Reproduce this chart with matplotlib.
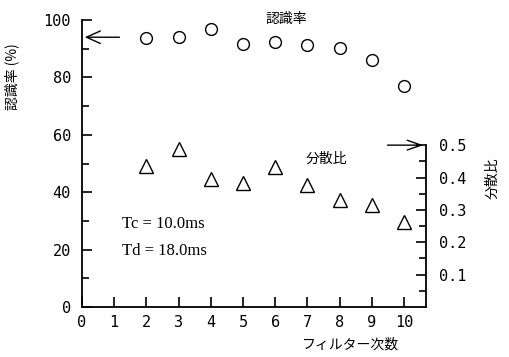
import matplotlib.pyplot as plt
from matplotlib.ticker import MultipleLocator

plt.rcParams['font.family'] = ['DejaVu Sans', 'Noto Sans CJK JP']

# filter order
orders = [2, 3, 4, 5, 6, 7, 8, 9, 10]
# recognition rate (%)
recog_rate = [93.8, 94.0, 96.9, 91.7, 92.4, 91.3, 90.1, 86.0, 77.0]
# variance ratio
var_ratio = [0.436, 0.488, 0.394, 0.384, 0.433, 0.377, 0.331, 0.315, 0.263]

jp = ['Noto Sans CJK JP', 'DejaVu Sans']

fig = plt.figure(figsize=(5.09, 3.57), dpi=100)
ax = fig.add_axes([0.161, 0.140, 0.676, 0.804])
ax2 = ax.twinx()

ax.plot(orders, recog_rate, 'o', mfc='none', mec='black', ms=8.5, mew=1.0)
ax2.plot(orders, var_ratio, '^', mfc='none', mec='black', ms=10, mew=1.0)

ax.set_xlim(0, 10.68)
ax.set_ylim(0, 100)
ax2.set_ylim(0, 100 / 112.8)

for s in ['top', 'right']:
    ax.spines[s].set_visible(False)
for s in ['top', 'left', 'bottom']:
    ax2.spines[s].set_visible(False)
ax2.spines['right'].set_bounds(0, 0.5)
for a in (ax, ax2):
    for s in a.spines.values():
        s.set_linewidth(1.3)

ax.xaxis.set_major_locator(MultipleLocator(1))
ax.yaxis.set_major_locator(MultipleLocator(20))
ax.yaxis.set_minor_locator(MultipleLocator(10))
ax2.set_yticks([0.1, 0.2, 0.3, 0.4, 0.5])
ax2.set_yticks([0.05, 0.15, 0.25, 0.35, 0.45], minor=True)

ax.tick_params(axis='both', which='major', direction='in', length=7, width=1.2,
               labelsize=11, labelfontfamily='DejaVu Sans Mono')
ax.tick_params(axis='y', which='minor', direction='in', length=5, width=1.2)
ax.tick_params(axis='x', pad=6)
ax.tick_params(axis='y', pad=8)
ax2.tick_params(axis='y', which='major', direction='in', length=7, width=1.2,
                labelsize=11, labelfontfamily='DejaVu Sans Mono', pad=9)
ax2.tick_params(axis='y', which='minor', direction='in', length=5, width=1.2)
ax2.set_yticklabels(['0.1', '0.2', '0.3', '0.4', '0.5'])

# axis labels
fig.text(0.024, 0.785, '認識率 (%)', rotation=90, ha='center', va='center',
         family=jp, fontsize=10)
fig.text(0.967, 0.50, '分散比', rotation=90, ha='center', va='center',
         family=jp, fontsize=10)
fig.text(0.688, 0.035, 'フィルター次数', ha='center', va='center',
         family=jp, fontsize=10)

# series labels
ax.text(5.7, 100.5, '認識率', ha='left', va='center', family=jp, fontsize=10)
ax.text(6.95, 51.5, '分散比', ha='left', va='center', family=jp, fontsize=10)

# arrows pointing to the axes
ax.annotate('', xy=(0, 94), xytext=(1.25, 94),
            arrowprops=dict(arrowstyle='->,head_length=1.0,head_width=0.45', lw=1.0, color='black'))
ax2.annotate('', xy=(10.68, 0.5), xytext=(9.4, 0.5),
             arrowprops=dict(arrowstyle='->,head_length=1.0,head_width=0.35', lw=1.0, color='black'))

ax.text(1.25, 29, 'Tc = 10.0ms', family='Liberation Serif', fontsize=12, va='center')
ax.text(1.25, 19.5, 'Td = 18.0ms', family='Liberation Serif', fontsize=12, va='center')

fig.savefig('out.png', dpi=100)
